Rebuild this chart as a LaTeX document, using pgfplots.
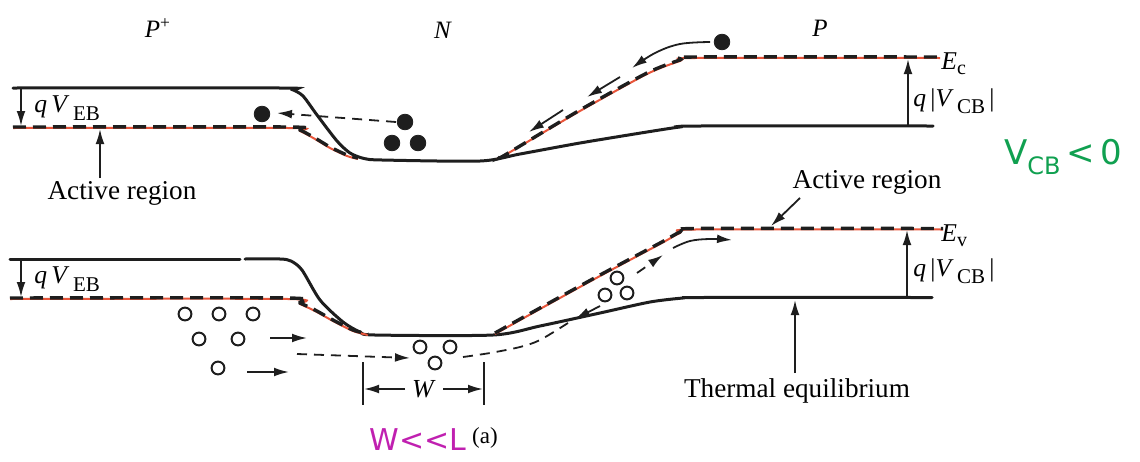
\documentclass[border=0pt]{standalone}
\usepackage{fontspec}
\setmainfont{Liberation Serif}
\newfontfamily\handfont{DejaVu Sans}
\usepackage{pgfplots}
\pgfplotsset{compat=1.18}
\usetikzlibrary{arrows.meta}
\definecolor{ink}{HTML}{1E1E1E}
\definecolor{redcol}{HTML}{E8553A}
\definecolor{hgreen}{HTML}{10A050}
\definecolor{hmag}{HTML}{C020B0}
\newcommand\lab{\fontsize{13.6}{16}\selectfont}
\newcommand\reg{\fontsize{12.5}{15}\selectfont}
\newcommand\sym{\fontsize{12.8}{15}\selectfont}
\pgfplotsset{
 eq/.style={ink, line width=1.5pt, smooth, tension=0.45, no markers, line cap=round},
 act/.style={ink, line width=1.7pt, dash pattern=on 6.5pt off 3.5pt, smooth, tension=0.45, no markers},
 redband/.style={redcol, line width=1.0pt, smooth, tension=0.45, no markers},
 arr/.style={ink, line width=0.9pt, -{Latex[length=7.5pt,width=4.4pt]}, no markers},
 darr/.style={ink, line width=0.9pt, dash pattern=on 5pt off 3.5pt, -{Latex[length=7.5pt,width=4.4pt]}, no markers},
}
\begin{document}
\begin{tikzpicture}
\begin{axis}[
  width=570pt, height=230.5pt, scale only axis,
  xmin=0, xmax=1140, ymin=0, ymax=461, y dir=reverse,
  hide axis, clip=false,
]
\path (rel axis cs:0,0) rectangle (rel axis cs:1,1);
% ---------------- Conduction band ----------------
\addplot[eq] coordinates {(13,88) (280,88) (292,89.5) (303,96) (317,115) (337,141) (350,153) (364,158.5) (382,160) (480,161) (520,154) (580,143) (647,132) (680,127) (700,126) (933,126)};
\addplot[redband] coordinates {(13,128) (288,128) (300,131) (315,139) (330,148) (347,156) (358,159)};
\addplot[redband] coordinates {(497,158) (505,155) (580,111) (647,74) (680,61) (695,58) (940,58)};
\addplot[act] coordinates {(13,127) (288,127) (300,130) (315,138) (330,147) (347,155) (358,158)};
\addplot[act] coordinates {(500,157) (505,155) (580,110) (647,73) (680,60) (695,57) (940,57)};
% ---------------- Valence band ----------------
\addplot[eq] coordinates {(10,259) (240,259)};
\addplot[eq] coordinates {(245,259) (280,259) (291,261) (302,270) (320,300) (343,322) (360,332) (375,335) (493,335) (540,326) (600,313) (650,302) (683,298) (700,297.5) (932,297.5)};
\addplot[redband] coordinates {(10,299) (288,299) (300,304) (315,311) (333,321) (353,331) (368,335)};
\addplot[redband] coordinates {(495,334) (540,309) (600,276) (660,244) (680,233) (695,229.5) (943,229.5)};
\addplot[act] coordinates {(10,298) (288,298) (300,303) (315,310) (333,320) (353,330) (368,334)};
\addplot[act] coordinates {(495,333) (540,308) (600,275) (660,243) (680,232) (695,228.5) (943,228.5)};
% ---------------- Potential arrows ----------------
\addplot[arr] coordinates {(21,89) (21,126)};
\addplot[arr] coordinates {(21,260) (21,297)};
\addplot[arr] coordinates {(908,126) (908,59)};
\addplot[arr] coordinates {(907,297) (907,230)};
\addplot[arr] coordinates {(100,178) (100,129)};
\addplot[arr] coordinates {(800,198) (771,226)};
\addplot[arr] coordinates {(795,373) (795,300)};
% ---------------- Electron motion ----------------
\addplot[darr] coordinates {(396,122) (277,113)};
\addplot[arr, smooth, tension=0.6] coordinates {(710,42) (680,44) (655,53) (632,68)};
\addplot[arr] coordinates {(620,77) (587,97)};
\addplot[arr] coordinates {(563,110) (529,132)};
\addplot[only marks, mark=*, mark size=3.9pt, ink] coordinates {(262,114) (405,122) (392,143) (418,143) (722,42)};
% ---------------- Hole motion ----------------
\addplot[arr] coordinates {(270,338) (307,338)};
\addplot[arr] coordinates {(247,372) (289,372)};
\addplot[darr] coordinates {(297,354) (410,358)};
\addplot[ink, line width=0.9pt, dash pattern=on 5pt off 3.5pt, smooth, no markers] coordinates {(463,357) (490,353) (520,347) (540,340) (568,323)};
\addplot[arr] coordinates {(600,306) (575,319)};
\addplot[darr] coordinates {(637,273) (663,255)};
\addplot[arr, smooth, tension=0.6] coordinates {(673,248) (690,241) (710,239) (732,240)};
\addplot[only marks, mark=o, mark size=3.2pt, ink, mark options={line width=1pt}] coordinates {(185,314) (219,314) (253,314) (199,339) (238,339) (218,368) (420,347) (450,347) (435,363) (617,278) (605,295) (627,293)};
% ---------------- W dimension ----------------
\addplot[ink, line width=0.9pt] coordinates {(363,362) (363,405)};
\addplot[ink, line width=0.9pt] coordinates {(484,362) (484,405)};
\addplot[arr] coordinates {(405,389) (364,389)};
\addplot[arr] coordinates {(443,389) (483,389)};
% ---------------- Labels ----------------
\node at (axis cs:158,28) {\reg\textit{P}\textsuperscript{+}};
\node at (axis cs:443,30) {\reg\textit{N}};
\node at (axis cs:820,28) {\reg\textit{P}};
\node[anchor=west, inner sep=0pt] at (axis cs:941,64) {\sym\textit{E}\raisebox{-0.45ex}{\fontsize{10}{12}\selectfont c}};
\node[anchor=west, inner sep=0pt] at (axis cs:941,236) {\sym\textit{E}\raisebox{-0.45ex}{\fontsize{10}{12}\selectfont v}};
\node[anchor=west, inner sep=0pt] at (axis cs:913,101) {\sym\textit{q}\,|\textit{V}\raisebox{-0.55ex}{\fontsize{10.5}{12}\selectfont\,CB}\,|};
\node[anchor=west, inner sep=0pt] at (axis cs:913,271) {\sym\textit{q}\,|\textit{V}\raisebox{-0.55ex}{\fontsize{10.5}{12}\selectfont\,CB}\,|};
\node[anchor=west, inner sep=0pt] at (axis cs:34,108) {\sym\textit{q\,V}\raisebox{-0.7ex}{\fontsize{10.5}{12}\selectfont\,EB}};
\node[anchor=west, inner sep=0pt] at (axis cs:34,279) {\sym\textit{q\,V}\raisebox{-0.7ex}{\fontsize{10.5}{12}\selectfont\,EB}};
\node at (axis cs:122,193) {\lab Active region};
\node at (axis cs:867,182) {\lab Active region};
\node at (axis cs:797,391) {\lab Thermal equilibrium};
\node[fill=white, inner sep=1pt] at (axis cs:424,389) {\fontsize{13}{15}\selectfont\textit{W}};
\node at (axis cs:485,438) {\fontsize{11.5}{13}\selectfont (a)};
\node[text=hmag] at (axis cs:418,440) {\handfont\fontsize{15}{18}\selectfont W<<L};
\node[text=hgreen] at (axis cs:1063,157) {\handfont\fontsize{17}{22}\selectfont V\raisebox{-0.5ex}{\fontsize{12}{14}\selectfont CB}\,<\,0};
\end{axis}
\end{tikzpicture}
\end{document}
